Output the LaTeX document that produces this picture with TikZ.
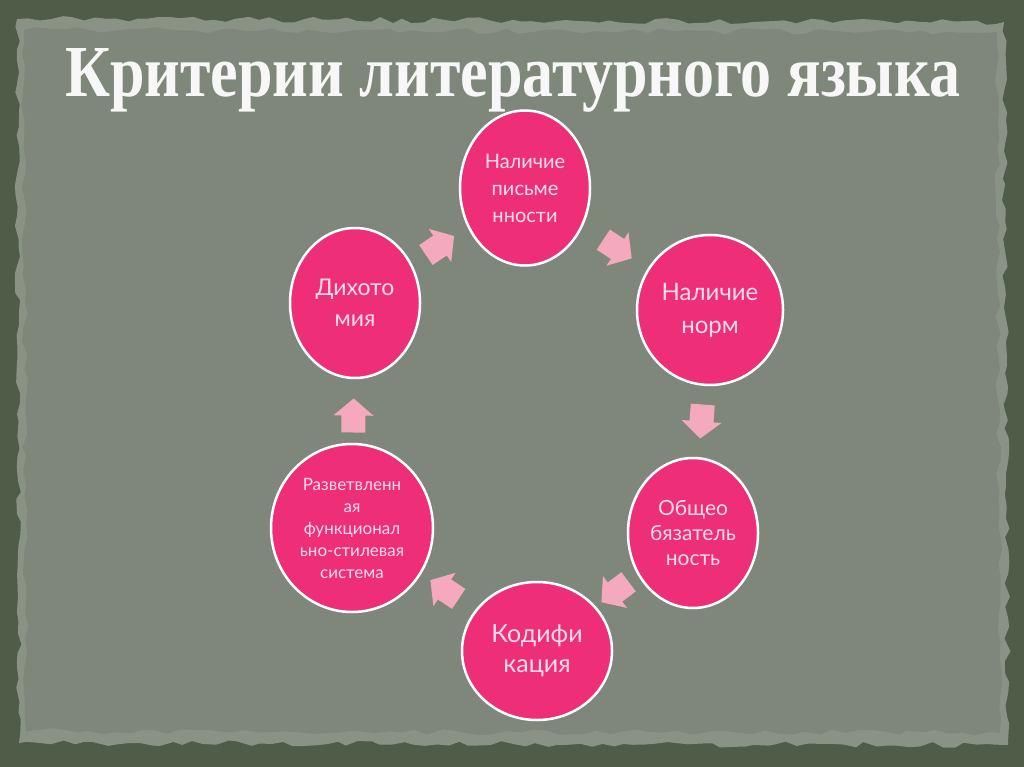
\documentclass[tikz,border=0pt]{standalone}
\usepackage{fontspec}
\setmainfont{Lato}
\newfontfamily\titlefont{Liberation Serif}
\usetikzlibrary{calc,decorations.pathmorphing,shapes.geometric}
\definecolor{outerbg}{HTML}{4F5C48}
\definecolor{paper}{HTML}{7F877B}
\definecolor{paperedge}{HTML}{8A9286}
\definecolor{circpink}{HTML}{EE2F78}
\definecolor{arrowpink}{HTML}{F5A9BF}
\definecolor{txtpink}{HTML}{FBDCE8}
\tikzset{
  crit/.style={ellipse, draw=white, line width=2.5pt, fill=circpink, text=txtpink,
    align=center, inner sep=0pt},
  blockarrow/.pic={\fill[arrowpink] (-17,-12) -- (0,-12) -- (0,-20) -- (17,0) -- (0,20) -- (0,12) -- (-17,12) -- cycle;},
}
\begin{document}
\begin{tikzpicture}[x=1pt,y=-1pt]
\useasboundingbox (0,0) rectangle (1024,767);
\fill[outerbg] (0,0) rectangle (1024,767);
\pgfmathsetseed{7}
\fill[paperedge, decorate, decoration={random steps, segment length=11pt, amplitude=3pt}]
  (17,19) -- (1004,22) -- (1008,745) -- (19,743) -- cycle;
\fill[paper, decorate, decoration={random steps, segment length=13pt, amplitude=3pt}]
  (24,30) -- (997,32) -- (1000,733) -- (26,731) -- cycle;
% title
\node[anchor=base west, text=white!94!gray, inner sep=0pt] (title) at (65,97)
  {\resizebox{895pt}{48pt}{\titlefont\bfseries Критерии литературного языка}};
% circles
\node[crit, minimum width=130pt, minimum height=155pt, font=\fontsize{20}{27}\selectfont] (c1) at (525,188)
  {Наличие\\письме\\нности};
\node[crit, minimum width=146pt, minimum height=150pt, font=\fontsize{24}{33}\selectfont] (c2) at (710,310)
  {Наличие\\норм};
\node[crit, minimum width=130pt, minimum height=150pt, font=\fontsize{21}{25}\selectfont] (c3) at (693,533)
  {Общео\\бязатель\\ность};
\node[crit, minimum width=150pt, minimum height=138pt, font=\fontsize{25}{30}\selectfont] (c4) at (537,651)
  {Кодифи\\кация};
\node[crit, minimum width=162pt, minimum height=168pt, font=\fontsize{17}{22}\selectfont] (c5) at (352,528)
  {Разветвленн\\ая\\функционал\\ьно-стилевая\\система};
\node[crit, minimum width=130pt, minimum height=150pt, font=\fontsize{23}{31}\selectfont] (c6) at (355,303)
  {Дихото\\мия};
% arrows
\foreach \a/\b in {c1/c2, c2/c3, c3/c4, c4/c5, c5/c6, c6/c1}{
  \path let \p1=($(\b)-(\a)$), \n1={atan2(\y1,\x1)} in
    ($(\a)!0.5!(\b)$) pic[rotate=\n1] {blockarrow};
}
\end{tikzpicture}
\end{document}
